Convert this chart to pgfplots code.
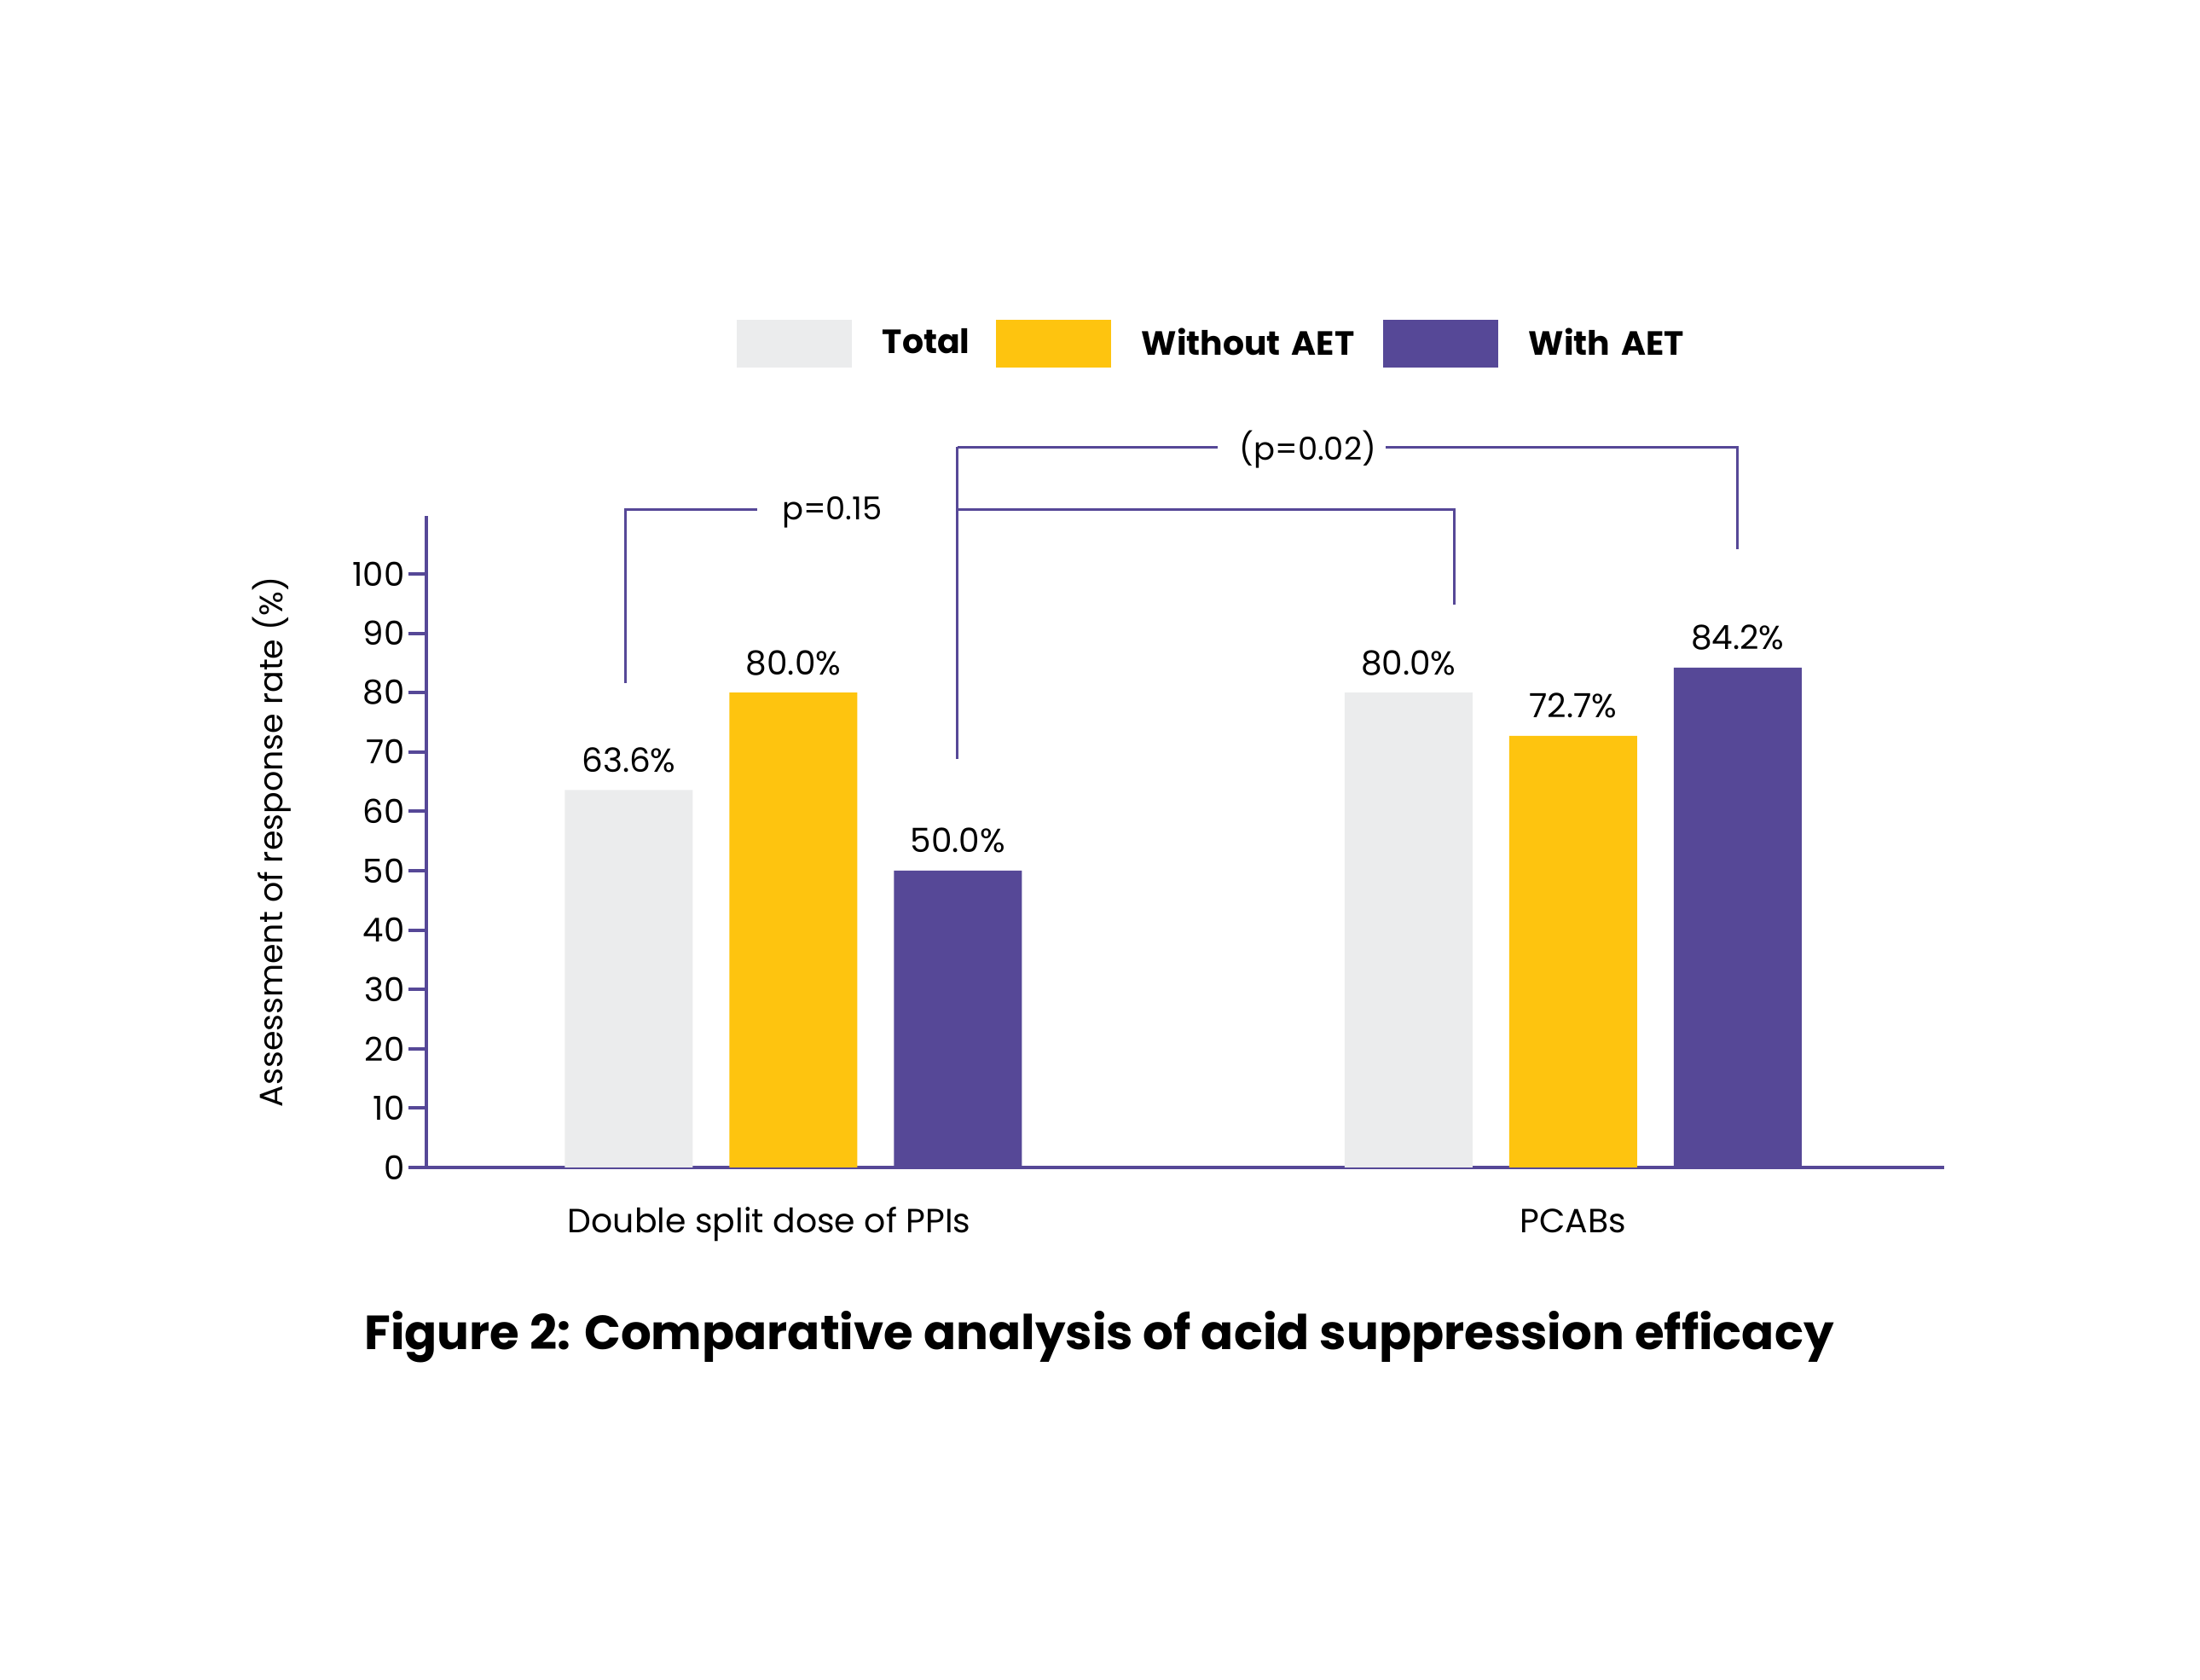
\documentclass[border=0pt]{standalone}
\usepackage{fontspec}
\setmainfont{Poppins}
\usepackage{pgfplots}
\pgfplotsset{compat=1.18}
\definecolor{cgrey}{HTML}{EBECED}
\definecolor{cyel}{HTML}{FEC40F}
\definecolor{cpur}{HTML}{564897}
\pgfplotsset{
  mylegend/.style={legend image code/.code={\fill[##1] (0cm,-0.28cm) rectangle (1.35cm,0.28cm);}},
}
\begin{document}
\begin{tikzpicture}
\useasboundingbox (0,0) rectangle (25.8,19.7);
\begin{axis}[
  at={(5.002cm,6.01cm)}, anchor=south west,
  scale only axis, width=17.80cm, height=7.635cm,
  xmin=-0.4705, xmax=1.4762, ymin=0, ymax=109.7,
  axis x line=bottom, axis y line=left,
  axis line style={-, draw=cpur, line width=1.1pt},
  ybar, bar width=1.50cm,
  clip=false,
  ytick={0,10,...,100},
  xtick={-0.031,1}, xticklabels={Double split dose of PPIs, PCABs},
  tick align=outside, major tick length=0.21cm,
  ytick style={draw=cpur, line width=1.1pt},
  xtick style={draw=none},
  /pgf/number format/assume math mode=true,
  yticklabel style={inner sep=0pt, xshift=-0.04cm, font=\fontsize{11}{13}\selectfont, text=black},
  xticklabel style={inner sep=0pt, anchor=base, yshift=-0.56cm, font=\fontsize{11.2}{13}\selectfont, text=black},
  ylabel={Assessment of response rate (\%)},
  every axis y label/.style={at={(rel axis cs:0,0.5)}, xshift=-1.81cm, anchor=center, rotate=90, font=\fontsize{10.8}{12}\selectfont},
  nodes near coords={\pgfmathprintnumber[fixed,fixed zerofill,precision=1,assume math mode=true]{\pgfplotspointmeta}\%},
  every node near coord/.append style={font=\fontsize{11.1}{13}\selectfont, anchor=base, inner sep=0pt, yshift=0.21cm, text=black},
  legend columns=3,
  legend style={at={(axis cs:-0.0729,138.8)}, anchor=west, draw=none, fill=none, inner sep=0pt, outer sep=0pt,
    /tikz/every odd column/.style={column sep=0.36cm},
    /tikz/every even column/.style={column sep=0cm},
    nodes={inner sep=0pt, font=\bfseries\fontsize{11.2}{13}\selectfont}},
]
\addplot[fill=cgrey, draw=none, bar shift=-1.93cm, mylegend] coordinates {(0,63.6) (1,80.0)};
\addlegendentry[text width=1.33cm]{Total}
\addplot[fill=cyel, draw=none, bar shift=0cm, mylegend] coordinates {(0,80.0) (1,72.7)};
\addlegendentry[text width=2.83cm]{Without AET}
\addplot[fill=cpur, draw=none, bar shift=1.93cm, mylegend] coordinates {(0,50.0) (1,84.2)};
\addlegendentry[text width=2.2cm]{With AET}
% significance brackets
\draw[cpur, line width=0.85pt] (axis cs:-0.2151,81.6) |- (axis cs:-0.0459,110.9);
\node[anchor=base, yshift=-0.12cm, font=\fontsize{10.5}{12}\selectfont] at (axis cs:0.0498,110.9) {p=0.15};
\draw[cpur, line width=0.85pt] (axis cs:0.2106,68.8) -- (axis cs:0.2106,121.4);
\draw[cpur, line width=0.85pt] (axis cs:0.2106,110.9) -| (axis cs:0.848,94.8);
\draw[cpur, line width=0.85pt] (axis cs:0.2106,121.4) -- (axis cs:0.544,121.4);
\node[anchor=center, yshift=-0.03cm, font=\fontsize{10.5}{12}\selectfont] at (axis cs:0.660,121.4) {(p=0.02)};
\draw[cpur, line width=0.85pt] (axis cs:0.760,121.4) -| (axis cs:1.2105,104.1);
\end{axis}
\node[anchor=base, font=\bfseries\fontsize{16}{19}\selectfont] at (12.89,3.87) {Figure 2: Comparative analysis of acid suppression efficacy};
\end{tikzpicture}
\end{document}
